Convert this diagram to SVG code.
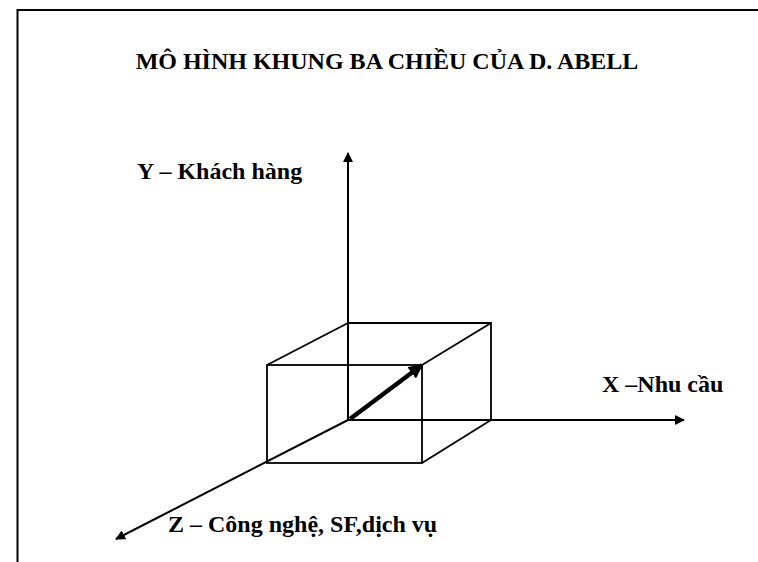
<svg xmlns="http://www.w3.org/2000/svg" width="758" height="562" viewBox="0 0 758 562">
<defs>
<marker id="ah" viewBox="0 0 10 10" refX="9" refY="5" markerWidth="5" markerHeight="5" orient="auto" markerUnits="strokeWidth">
<path d="M0,0 L10,5 L0,10 z" fill="#000"/>
</marker>
<marker id="ahb" viewBox="0 0 10 10" refX="9" refY="5" markerWidth="3.2" markerHeight="3.2" orient="auto" markerUnits="strokeWidth">
<path d="M0,0 L10,5 L0,10 z" fill="#000"/>
</marker>
</defs>
<style>
.t{font-family:"Liberation Serif","Times New Roman",serif;font-weight:bold;fill:#000;font-size:24px}
.ln{stroke:#000;stroke-width:1.8;fill:none}
.ax{stroke:#000;stroke-width:2;fill:none}
</style>
<rect width="758" height="562" fill="#fff"/>
<path d="M17.5,563 V10 H760" fill="none" stroke="#000" stroke-width="2"/>
<g id="title"><text class="t" x="387" y="69" text-anchor="middle">MÔ HÌNH KHUNG BA CHIỀU CỦA D. ABELL</text></g>
<g id="box">
<path class="ln" d="M348,323 H491 V420"/>
<rect class="ln" x="267" y="365" width="155" height="98"/>
<path class="ln" d="M267,365 L348,323 M422,365 L491,323 M422,463 L491,420"/>
</g>
<g id="connectors">
<line class="ax" x1="348" y1="420" x2="348" y2="153" marker-end="url(#ah)"/>
<line class="ax" x1="348" y1="420" x2="684" y2="420" marker-end="url(#ah)"/>
<line class="ax" x1="348" y1="420" x2="116" y2="539" marker-end="url(#ah)"/>
<line stroke="#000" stroke-width="4.5" x1="350" y1="419" x2="422" y2="365" marker-end="url(#ahb)"/>
</g>
<g id="labelY"><text class="t" x="137" y="179">Y – Khách hàng</text></g>
<g id="labelX"><text class="t" x="602" y="392">X –Nhu cầu</text></g>
<g id="labelZ"><text class="t" x="168" y="532">Z – Công nghệ, SF,dịch vụ</text></g>
</svg>
